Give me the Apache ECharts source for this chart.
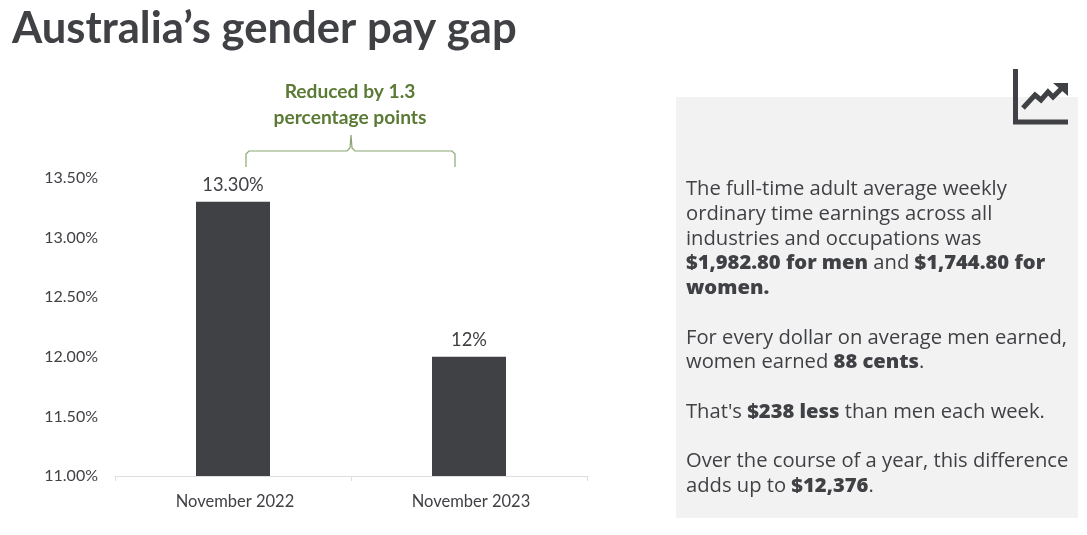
<!DOCTYPE html>
<html><head><meta charset="utf-8">
<style>html,body{margin:0;padding:0;background:#fff}#c{width:1087px;height:535px}</style>
<script src="https://cdn.jsdelivr.net/npm/echarts@6/dist/echarts.min.js"></script>
</head><body><div id="c"></div>
<script>
const categories = ['November 2022', 'November 2023'];
const values = [13.3, 12];
const valueLabels = ['13.30%', '12%'];
const titleText = 'Australia’s gender pay gap';
const noteLines = ['Reduced by 1.3', 'percentage points'];
const panelLines = [
  [['The full-time adult average weekly', 'n']],
  [['ordinary time earnings across all', 'n']],
  [['industries and occupations was', 'n']],
  [['$1,982.80 for men', 'b'], [' and ', 'n'], ['$1,744.80 for', 'b']],
  [['women.', 'b']],
  [],
  [['For every dollar on average men earned,', 'n']],
  [['women earned ', 'n'], ['88 cents', 'b'], ['.', 'n']],
  [],
  [["That's ", 'n'], ['$238 less', 'b'], [' than men each week.', 'n']],
  [],
  [['Over the course of a year, this difference', 'n']],
  [['adds up to ', 'n'], ['$12,376', 'b'], ['.', 'n']]
];
const dark = '#404145', green = '#5B7A35', brace = '#8AA572', axisGrey = '#404145';
const chart = echarts.init(document.getElementById('c'), null, {renderer: 'canvas'});
const panelText = panelLines.map(l => l.length ? l.map(s => `{${s[1]}|${s[0]}}`).join('') : '{n| }').join('\n');
chart.setOption({
  animation: false,
  backgroundColor: '#fff',
  grid: {left: 115, right: 500, top: 178, bottom: 59, containLabel: false},
  xAxis: {
    type: 'category', data: categories,
    axisLine: {lineStyle: {color: '#DEDEDE', width: 1}},
    axisTick: {show: true, length: 5, lineStyle: {color: '#DEDEDE'}},
    axisLabel: {fontFamily: 'Lato', fontSize: 16.5, color: axisGrey, margin: 17, padding: [0, 0, 0, 4]}
  },
  yAxis: {
    type: 'value', min: 11, max: 13.5, interval: 0.5,
    axisLine: {show: false}, axisTick: {show: false}, splitLine: {show: false},
    axisLabel: {fontFamily: 'Lato', fontSize: 16, color: axisGrey, margin: 17,
      formatter: v => v.toFixed(2) + '%'}
  },
  series: [{
    type: 'bar', data: values, barWidth: 74, itemStyle: {color: dark},
    label: {show: true, position: 'top', distance: 8, fontFamily: 'Lato', fontSize: 18.3, color: axisGrey,
      formatter: p => valueLabels[p.dataIndex]}
  }],
  graphic: [
    {type: 'rect', z: -1, shape: {x: 676, y: 97, width: 402, height: 421}, style: {fill: '#F2F2F2'}},
    {type: 'text', x: 12, y: 7, style: {text: titleText, fontFamily: 'Lato', fontWeight: 'bold', fontSize: 43.6, fill: dark}},
    {type: 'text', x: 350, y: 79, style: {text: noteLines.join('\n'), fontFamily: 'Lato', fontWeight: 'bold', fontSize: 19.2, lineHeight: 26, align: 'center', fill: green}},
    {type: 'polyline', shape: {points: [[246, 167], [246, 154], [249, 151], [347, 151], [350, 148], [351, 135], [352, 148], [355, 151], [452, 151], [455, 154], [455, 167]]},
      style: {fill: 'none', stroke: brace, lineWidth: 1.2}},
    {type: 'text', x: 686, y: 177, style: {
      text: panelText, lineHeight: 24.75, fill: dark,
      rich: {
        n: {fontFamily: 'Open Sans', fontSize: 20.2, lineHeight: 24.75, fill: dark},
        b: {fontFamily: 'Open Sans', fontSize: 20.2, lineHeight: 24.75, fontWeight: 800, fill: dark}
      }}},
    {type: 'polyline', shape: {points: [[1015.5, 69], [1015.5, 122], [1068, 122]]}, style: {fill: 'none', stroke: dark, lineWidth: 5}},
    {type: 'polyline', shape: {points: [[1023, 108], [1035, 95], [1041, 100], [1048, 92], [1053, 97], [1065, 85]]}, style: {fill: 'none', stroke: dark, lineWidth: 5}},
    {type: 'polygon', shape: {points: [[1053, 83], [1068, 83], [1068, 96]]}, style: {fill: dark}}
  ]
});
</script></body></html>
